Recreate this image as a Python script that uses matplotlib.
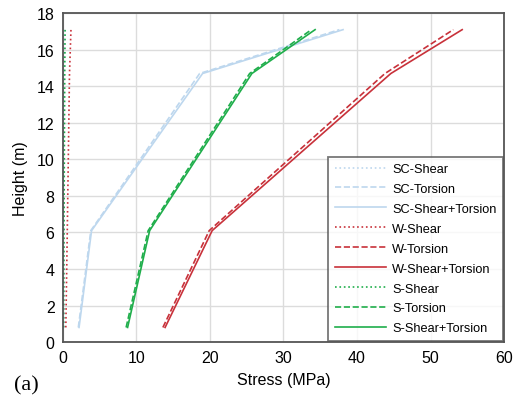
import matplotlib
matplotlib.use('Agg')
import matplotlib.pyplot as plt

plt.rcParams['font.family'] = ['Liberation Sans', 'DejaVu Sans']

height = [0.8, 6.1, 14.7, 17.1]

sc_shear = [0.15, 0.15, 0.2, 0.25]
sc_torsion = [2.1, 3.8, 18.6, 37.6]
sc_total = [2.2, 3.9, 19.0, 38.1]

w_shear = [0.4, 0.6, 0.9, 1.1]
w_torsion = [13.6, 19.9, 43.8, 53.1]
w_total = [13.9, 20.3, 44.6, 54.3]

s_shear = [0.1, 0.15, 0.25, 0.3]
s_torsion = [8.6, 11.6, 25.4, 33.8]
s_total = [8.8, 11.8, 25.7, 34.3]

blue = '#bdd7ee'
red = '#c8313a'
green = '#1fae4b'

fig = plt.figure(figsize=(5.24, 4.06), dpi=100)
ax = fig.add_axes([0.120, 0.155, 0.842, 0.810])

series = [
    (sc_shear, blue, ':', 'SC-Shear'),
    (sc_torsion, blue, '--', 'SC-Torsion'),
    (sc_total, blue, '-', 'SC-Shear+Torsion'),
    (w_shear, red, ':', 'W-Shear'),
    (w_torsion, red, '--', 'W-Torsion'),
    (w_total, red, '-', 'W-Shear+Torsion'),
    (s_shear, green, ':', 'S-Shear'),
    (s_torsion, green, '--', 'S-Torsion'),
    (s_total, green, '-', 'S-Shear+Torsion'),
]
for vals, c, ls, lab in series:
    ax.plot(vals, height, color=c, linestyle=ls, linewidth=1.2, label=lab)

ax.set_xlim(0, 60)
ax.set_ylim(0, 18)
ax.set_xticks(range(0, 61, 10))
ax.set_yticks(range(0, 19, 2))
ax.grid(True, color='#dcdcdc', linewidth=1)
ax.set_axisbelow(True)
ax.tick_params(length=0, labelsize=11.5, pad=6)
for s in ax.spines.values():
    s.set_color('#555555')
    s.set_linewidth(1.3)

ax.set_xlabel('Stress (MPa)', fontsize=11.5, labelpad=5)
ax.set_ylabel('Height (m)', fontsize=11.5, labelpad=6)

leg = ax.legend(loc='lower right', fontsize=9.2, frameon=True, fancybox=False,
                handlelength=4.0, handletextpad=0.5, borderaxespad=0.1,
                labelspacing=0.62, borderpad=0.5)
leg.get_frame().set_edgecolor('#555555')
leg.get_frame().set_linewidth(1.3)

fig.text(0.027, 0.038, '(a)', fontsize=16, family='Liberation Serif')

fig.savefig('out.png', dpi=100)
